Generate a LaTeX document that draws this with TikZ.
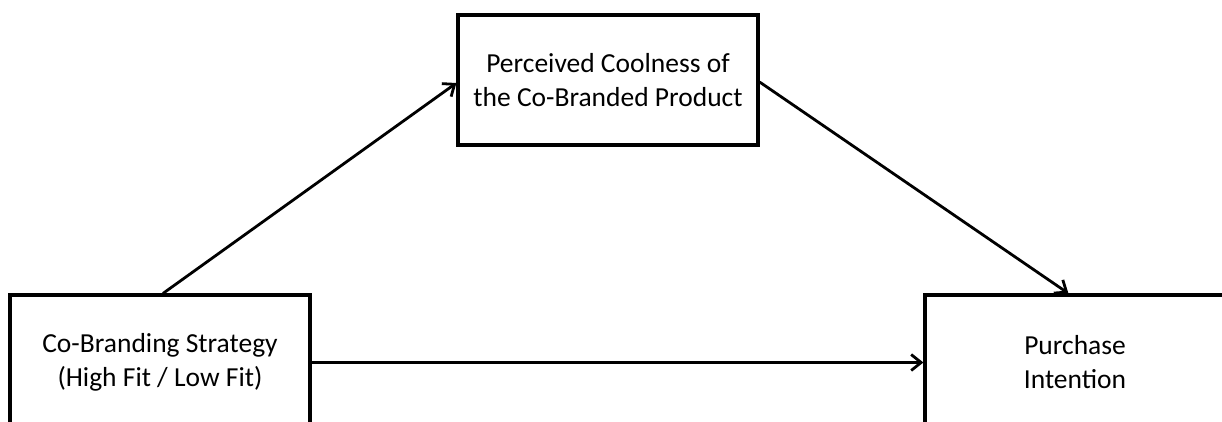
\documentclass[tikz,border=0pt]{standalone}
\usepackage{fontspec}
\setmainfont{Carlito}
\usetikzlibrary{arrows.meta,calc}
\begin{document}
\begin{tikzpicture}[x=1pt,y=-1pt,
  box/.style={draw=black,line width=3.2pt,rectangle,minimum width=300pt,
    align=center,font=\fontsize{27.5}{34}\selectfont,text=black,inner sep=0pt},
  arr/.style={line width=2.8pt,-{Straight Barb[length=10pt,width=16pt,line width=2.8pt]}}]
\useasboundingbox (0,0) rectangle (1222,421);
\clip (0,0) rectangle (1222,421);
\fill[white] (0,0) rectangle (1222,421);
\node[box,minimum height=130pt] (cool) at (608,80) {Perceived Coolness of\\the Co-Branded Product};
\node[box,minimum height=135pt] (strat) at (160,362.5) {Co-Branding Strategy\\(High Fit / Low Fit)};
\node[box,minimum height=135pt] (purch) at (1075,362.5) {Purchase\\Intention};
\draw[arr] ($(strat.north)+(3,0)$) -- ($(cool.west)+(0,3)$);
\draw[arr] ($(cool.east)+(0,2)$) -- ($(purch.north west)+(145,0)$);
\draw[arr] (strat.east) -- (purch.west);
\end{tikzpicture}
\end{document}
